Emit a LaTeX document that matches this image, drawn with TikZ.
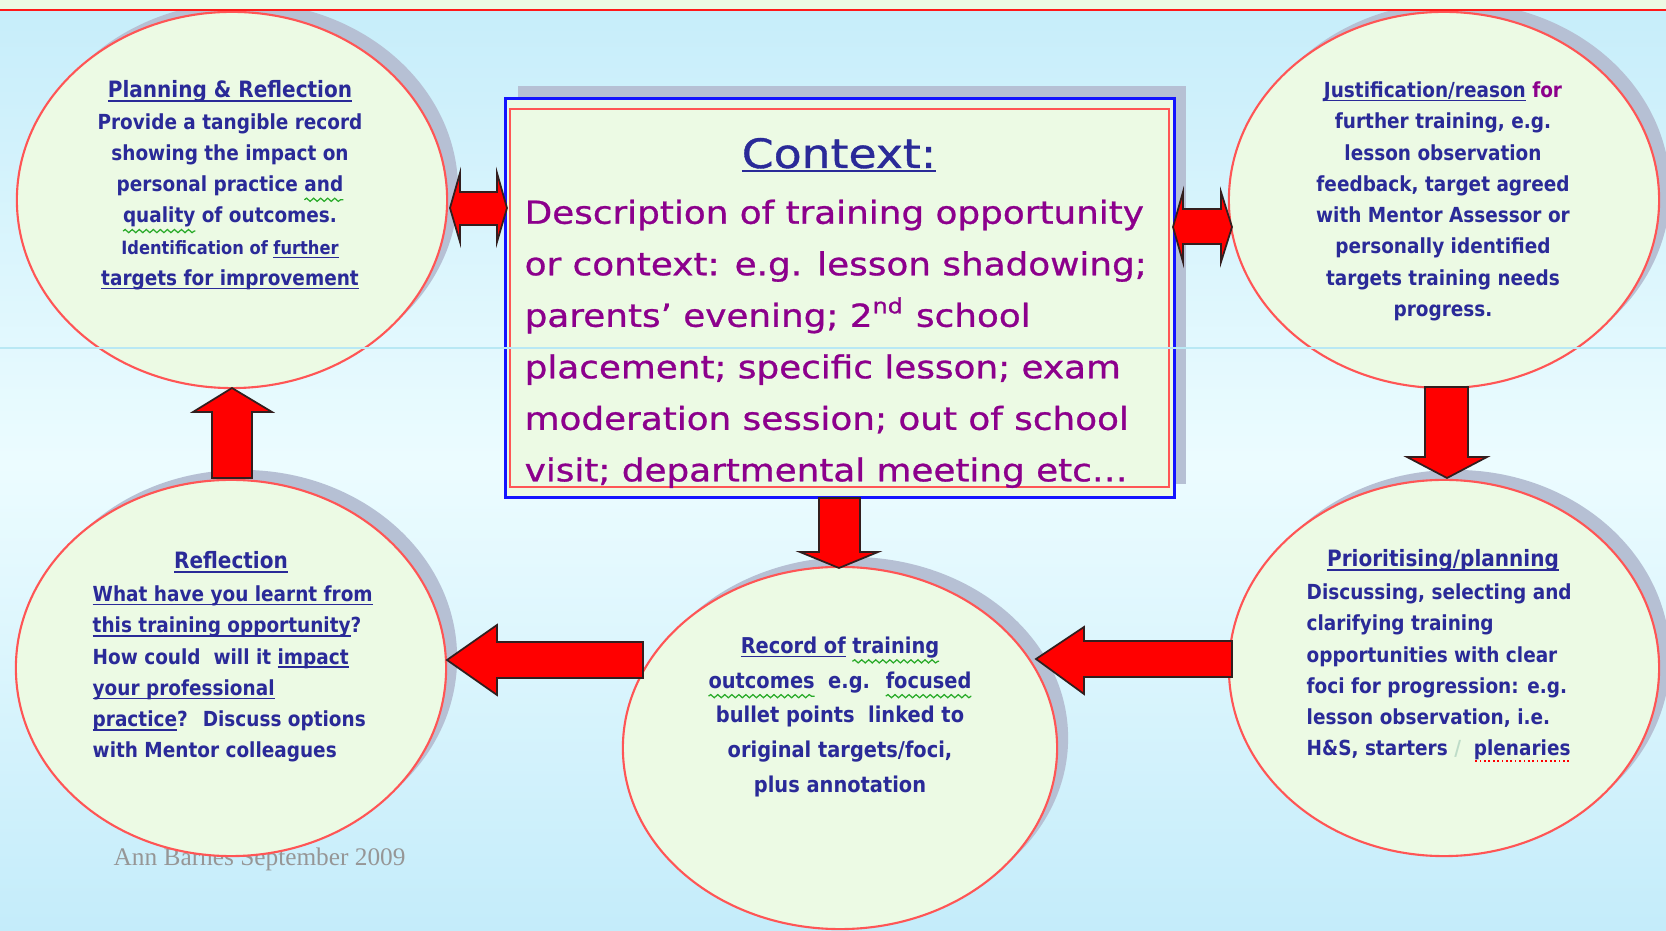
\documentclass[tikz,border=0pt]{standalone}
\usepackage{fontspec}
\usetikzlibrary{shapes.geometric,shadows,decorations.pathmorphing}
\setmainfont{DejaVu Sans}
\newfontfamily\elfont[FakeStretch=0.89]{DejaVu Sans}
\newfontfamily\ctxfont[FakeStretch=1.13,FakeBold=0.9]{DejaVu Sans}
\newfontfamily\footfont{Liberation Serif}
\definecolor{bgtop}{RGB}{198,237,250}
\definecolor{bgmid}{RGB}{236,252,255}
\definecolor{bgbot}{RGB}{196,236,250}
\definecolor{stripgreen}{RGB}{236,250,228}
\definecolor{elfill}{RGB}{236,250,228}
\definecolor{elred}{RGB}{255,85,85}
\definecolor{shadec}{RGB}{182,192,212}
\definecolor{textblue}{RGB}{42,42,152}
\definecolor{ctxpurple}{RGB}{140,0,140}
\definecolor{boxblue}{RGB}{20,20,255}
\definecolor{arrowred}{RGB}{255,0,0}
\definecolor{arrowedge}{RGB}{50,30,30}
\definecolor{wavegreen}{RGB}{40,170,40}
\definecolor{footgrey}{RGB}{150,150,150}
\definecolor{faintline}{RGB}{185,232,244}
\definecolor{fadeslash}{RGB}{190,220,200}
\newsavebox\ulbox
\newcommand\ul[1]{\sbox\ulbox{#1}\rlap{\rule[-1.1pt]{\wd\ulbox}{0.45pt}}\usebox\ulbox}
\newcommand\gwave[1]{\sbox\ulbox{#1}\rlap{\tikz[baseline=0pt,x=1pt,y=1pt]{\useasboundingbox (0,0) rectangle (0.1,0.1);\draw[wavegreen, line width=0.35pt, decorate, decoration={snake, amplitude=0.45pt, segment length=2pt}] (0,-2.3) -- (\the\wd\ulbox,-2.3);}}\usebox\ulbox}
\newcommand\rdots[1]{\sbox\ulbox{#1}\rlap{\raisebox{-1.6pt}[0pt][0pt]{\textcolor{red}{\hbox to \wd\ulbox{\xleaders\hbox{\kern0.35pt\rule{0.5pt}{0.5pt}\kern0.35pt}\hfill}}}}\usebox\ulbox}
\begin{document}
\begin{tikzpicture}[x=0.01cm,y=-0.01cm,
  ell/.style={ellipse, draw=elred, line width=0.6pt, fill=elfill, inner sep=0pt,
    minimum width=4.3cm, minimum height=3.76cm,
    general shadow={fill=shadec, shadow xshift=1.1mm, shadow yshift=1mm}},
  ctxbox/.style={rectangle, draw=boxblue, line width=0.9pt, fill=elfill, inner sep=0pt,
    minimum width=6.68cm, minimum height=3.98cm,
    general shadow={fill=shadec, shadow xshift=1.2mm, shadow yshift=1.3mm}},
  eltext/.style={inner sep=0pt, text=textblue, align=center,
    font={\elfont\bfseries\fontsize{5.9}{8.9}\selectfont}},
  eltextl/.style={eltext, align=left},
  eltitle/.style={inner sep=0pt, text=textblue,
    font={\elfont\bfseries\fontsize{6.4}{8.9}\selectfont}},
  ctxtitle/.style={inner sep=0pt, text=textblue, font={\ctxfont\fontsize{11.5}{14}\selectfont}},
  ctxtext/.style={inner sep=0pt, text=ctxpurple, align=left,
    font={\ctxfont\fontsize{9}{14.65}\selectfont}},
  blockarrow/.style={fill=arrowred, draw=arrowedge, line width=0.5pt, line join=miter},
  foot/.style={inner sep=0pt, text=footgrey, font={\footfont\fontsize{7.2}{9}\selectfont}}
]
\useasboundingbox (0,0) rectangle (1666,931);
% background
\shade[top color=bgtop, bottom color=bgmid] (0,0) rectangle (1666,466);
\shade[top color=bgmid, bottom color=bgbot] (0,465) rectangle (1666,931);

% footer (partly hidden by ellipse)
\node[foot, anchor=base west] (foot) at (113,866) {Ann Barnes September 2009};

% ellipses
\node[ell] (pr) at (232,200) {};
\node[ell] (jr) at (1444,200) {};
\node[ell] (rf) at (231,668) {};
\node[ell] (pp) at (1444,668) {};
\node[ell, minimum width=4.34cm, minimum height=3.62cm] (rt) at (840,748) {};

% context box
\node[ctxbox] (ctx) at (840,298) {};
\draw[elred, line width=0.6pt] ([shift={(6,12)}]ctx.north west) rectangle ([shift={(-7,-12)}]ctx.south east);

% context text
\node[ctxtitle, anchor=base] (ctxt) at (839,168) {\ul{Context:}};
\node[ctxtext, anchor=north west] (ctxb) at (524,199) {Description of training opportunity\\
or context: e.g. lesson shadowing;\\
parents’ evening; 2\textsuperscript{nd} school\\
placement; specific lesson; exam\\
moderation session; out of school\\
visit; departmental meeting etc…};

% planning & reflection
\node[eltext, anchor=north] (prt) at (230,80) {{\fontsize{6.4}{8.9}\selectfont\ul{Planning \& Reflection}}\\
Provide a tangible record\\
showing the impact on\\
personal practice \gwave{and}\\
\gwave{quality} of outcomes.\\
\fontsize{5.2}{8.9}\selectfont Identification of \ul{further}\\
\ul{targets for improvement}};

% justification
\node[eltext, anchor=north] (jrt) at (1443,81) {\ul{Justification/reason} {\color{ctxpurple}for}\\
further training, e.g.\\
lesson observation\\
feedback, target agreed\\
with Mentor Assessor or\\
personally identified\\
targets training needs\\
progress.};

% reflection
\node[eltitle, anchor=north] (rft) at (231,551) {\ul{Reflection}};
\node[eltextl, anchor=north west] (rfb) at (92,585) {\ul{What have you learnt from}\\
\ul{this training opportunity}?\\
How could \ will it \ul{impact}\\
\ul{your professional}\\
\ul{practice}? \ Discuss options\\
with Mentor colleagues};

% prioritising
\node[eltitle, anchor=north] (ppt) at (1443,549) {\ul{Prioritising/planning}};
\node[eltextl, anchor=north west] (ppb) at (1306,583) {Discussing, selecting and\\
clarifying training\\
opportunities with clear\\
foci for progression: e.g.\\
lesson observation, i.e.\\
H\&S, starters \textcolor{fadeslash}{/} \ \rdots{plenaries}};

% record
\node[eltext, anchor=north, font={\elfont\bfseries\fontsize{6.2}{9.9}\selectfont}] (rtt) at (840,636) {\ul{Record of} \gwave{training}\\
\gwave{outcomes} \ e.g. \ \gwave{focused}\\
bullet points \ linked to\\
original targets/foci,\\
plus annotation};

% block arrows
\draw[blockarrow] (450,208) -- (460,173) -- (460,192) -- (497,192) -- (497,173) -- (507,208)
  -- (497,242) -- (497,225) -- (460,225) -- (460,242) -- cycle;
\draw[blockarrow] (1173,227) -- (1183,192) -- (1183,209) -- (1221,209) -- (1221,192) -- (1232,227)
  -- (1221,262) -- (1221,244) -- (1183,244) -- (1183,262) -- cycle;
\draw[blockarrow] (232,388) -- (272,412) -- (252,412) -- (252,478) -- (212,478) -- (212,412) -- (193,412) -- cycle;
\draw[blockarrow] (1425,387) -- (1468,387) -- (1468,457) -- (1487,457) -- (1447,478) -- (1407,457) -- (1425,457) -- cycle;
\draw[blockarrow] (819,498) -- (860,498) -- (860,552) -- (878,552) -- (839,568) -- (800,552) -- (819,552) -- cycle;
\draw[blockarrow] (447,660) -- (497,625) -- (497,642) -- (643,642) -- (643,678) -- (497,678) -- (497,695) -- cycle;
\draw[blockarrow] (1036,659) -- (1084,627) -- (1084,641) -- (1232,641) -- (1232,677) -- (1084,677) -- (1084,694) -- cycle;

% top strip and faint line
\fill[stripgreen] (0,0) rectangle (1666,9);
\draw[red!90!white, line width=0.6pt] (0,10) -- (1666,10);
\draw[faintline, line width=0.3pt] (0,348) -- (1666,348);
\end{tikzpicture}
\end{document}
